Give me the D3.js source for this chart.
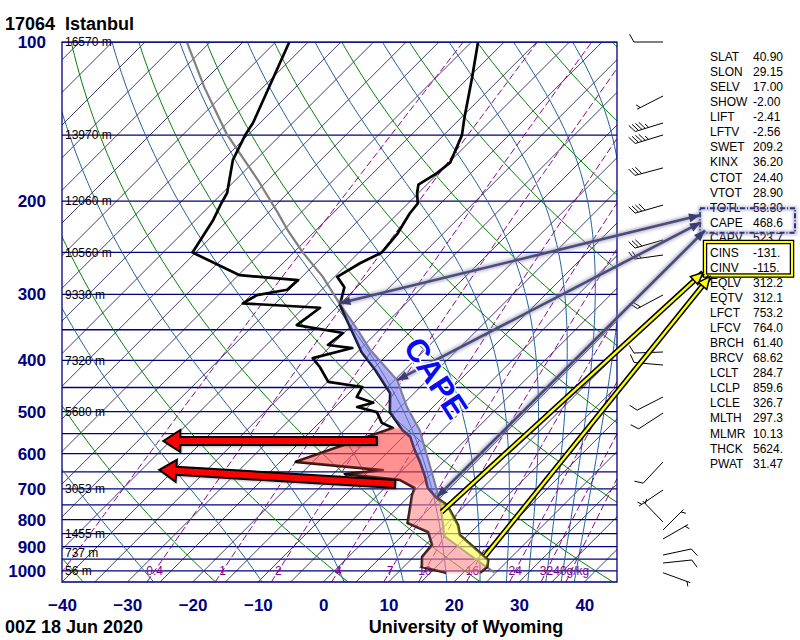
<!DOCTYPE html>
<html><head><meta charset="utf-8">
<script src="https://cdn.jsdelivr.net/npm/d3@7/dist/d3.min.js"></script>
<style>
body{margin:0;background:#fff}
svg{display:block}
text{font-family:Arial,"Liberation Sans",Helvetica,sans-serif}
</style></head><body>
<svg id="chart" width="800" height="640"></svg>
<script>
// ---------------- data ----------------
const stationTitle = "17064  Istanbul";
const timeLabel = "00Z 18 Jun 2020";
const creditLabel = "University of Wyoming";

const pressureTicks = [100,200,300,400,500,600,700,800,900,1000];
const tempTicks = [-40,-30,-20,-10,0,10,20,30,40];
const isobarLevels = [100,150,200,250,300,350,400,450,500,550,600,650,700,750,800,850,900,950,1000,1050];
const heightLevels = [100,150,200,250,300,400,500,700,850,925,1000];
const heightLabels = ["16570 m","13970 m","12060 m","10560 m","9330 m","7320 m","5680 m","3053 m","1455 m","737 m","56 m"];

const mixingRatios = [0.1,0.4,1,2,4,7,10,16,24,32,40];
const mixingLabels = ["","0.4","1","2","4","7","10","16","24","32","40g/kg"];
const dryAdiabatsC = [-40,-20,0,20,40,60,80,100,120,140,160,180,200];
const moistThetaE = [245,265,285,305,325,345,365,385,405,425,445];
const isothermStep = 5;

// sounding (hPa, degC)
const tempP = [1008,983,954,855,819,751,725,697,664,622,591,558,542,501,461,417,386,355,314,291,278,262,250,230,211,202,193,186,177,169,150,139,117,100];
const tempT = [22.6,22.8,21.9,13.7,11.9,7.2,4.2,1.6,-0.5,-3.6,-6.2,-8.9,-11.1,-15.8,-18.7,-24.5,-29.3,-33.6,-39.9,-41.9,-44.6,-43.2,-41.5,-42.0,-43.2,-43.5,-45.2,-46.3,-45.2,-44.8,-47.2,-49.5,-54.4,-59.0];

const dewP = [1008,983,941,893,844,812,719,697,673,656,645,622,537,525,501,490,481,469,449,439,412,396,379,374,355,343,318,312,301,294,282,276,250,217,202,193,167,150,142,100];
const dewT = [17.4,12.8,11.3,11.0,8.4,3.9,0.3,-0.4,-3.9,-13.2,-8.0,-22.6,-12.9,-15.4,-17.8,-21.6,-19.8,-23.2,-23.9,-29.9,-33.4,-35.9,-31.4,-35.6,-35.1,-43.4,-42.5,-55.0,-54.1,-50.3,-50.1,-59.8,-70.5,-72.3,-73.6,-74.3,-78.5,-80.4,-81.1,-87.9];

const parcelP = [1008,950,900,859.6,812,744,682,612,542,490,436,382,350,312,278,250,227,210,182,149,122,100];
const parcelT = [24.8,19.8,15.3,11.5,9.3,5.8,1.9,-3.0,-8.5,-14.0,-19.6,-28.4,-33.4,-40.2,-46.8,-53.6,-59.3,-63.6,-71.7,-83.5,-93.9,-103.6];

// winds (hPa, direction deg, speed kt)
const windP = [100,126.5,142.3,149.9,173,203.4,236.8,252.8,300.8,385.6,408.1,469,503,622.4,703.1,808.3,836.9,870.3,933.2,966.3,1008];
const windDir = [270,243,253,253,255,254,254,262,242,268,275,243,237,223,236,316,45,60,78,84,110];
const windSpd = [10,5,45,45,30,40,30,25,20,10,10,10,10,10,5,5,3,3,10,10,3];

// station indices
const indexNames = ["SLAT","SLON","SELV","SHOW","LIFT","LFTV","SWET","KINX","CTOT","VTOT","TOTL","CAPE","CAPV","CINS","CINV","EQLV","EQTV","LFCT","LFCV","BRCH","BRCV","LCLT","LCLP","LCLE","MLTH","MLMR","THCK","PWAT"];
const indexValues = ["40.90","29.15","17.00","-2.00","-2.41","-2.56","209.2","36.20","24.40","28.90","53.30","468.6","523.7","-131.","-115.","312.2","312.1","753.2","764.0","61.40","68.62","284.7","859.6","326.7","297.3","10.13","5624.","31.47"];

// annotations (hPa, degC)
const capeArrowTails = [[312,-40.2],[436,-19.6],[725,4.4]];
const cinArrowTails = [[774,7.4],[937,20.8]];
const redArrowTails = [[568,-13.4],[685,-4.0]];
const redArrowHeads = [[568,-46.1],[644,-42.3]];
const dryLayer = [537,690];
const moistLayerTop = 690;

// ---------------- scales ----------------
const svg = d3.select('#chart');
const defs = svg.append('defs');
defs.append('clipPath').attr('id','plotClip').append('rect')
  .attr('x',62).attr('y',42).attr('width',555).attr('height',540.1);
const f1 = defs.append('filter').attr('id','soft').attr('x','-20%').attr('y','-20%').attr('width','140%').attr('height','140%');
f1.append('feGaussianBlur').attr('stdDeviation',1.4);
const f2 = defs.append('filter').attr('id','shadow').attr('x','-20%').attr('y','-20%').attr('width','140%').attr('height','140%');
f2.append('feGaussianBlur').attr('stdDeviation',1.8);

const y = d3.scaleLog().domain([100,1050]).range([42,582.1]);
const xb = d3.scaleLinear().domain([-40,45]).range([62,617]);
const yB = y(1050);
const sx = (T,p) => xb(T) + (yB - y(p));

const pSamples = d3.range(0,161).map(i => 1050*Math.pow(100/1050, i/160));
const lineTP = d3.line().x(d => sx(d.T,d.p)).y(d => y(d.p));

function esat(Tc){ return 6.112*Math.exp(17.67*Tc/(Tc+243.5)); }
function thetaE(TK,p){
  const Tc = TK-273.15, es = esat(Tc);
  if (es >= p*0.5) return 1e9;
  const r = 622*es/(p-es);
  return TK*Math.pow(1000/p,0.2854*(1-0.00028*r))*Math.exp((3.376/TK-0.00254)*r*(1+0.00081*r));
}
function moistT(te,p){
  let lo=120, hi=345;
  for(let k=0;k<50;k++){ const m=(lo+hi)/2; if(thetaE(m,p)>te) hi=m; else lo=m; }
  return (lo+hi)/2-273.15;
}
function mixT(w,p){ const e=w*p/(622+w); const a=Math.log(e/6.112); return 243.5*a/(17.67-a); }
function interp(P,T,p){
  for(let i=1;i<P.length;i++){
    if((P[i-1]-p)*(P[i]-p)<=0){
      const f=(Math.log(p)-Math.log(P[i-1]))/(Math.log(P[i])-Math.log(P[i-1]));
      return T[i-1]+f*(T[i]-T[i-1]);
    }
  }
  return NaN;
}
function clipProfile(P,T,pLo,pHi){
  const out=[];
  for(let i=0;i<P.length;i++){
    if(i>0){
      const p0=P[i-1],p1=P[i],t0=T[i-1],t1=T[i];
      [pHi,pLo].forEach(b=>{
        if((p0-b)*(p1-b)<0){
          const f=(Math.log(b)-Math.log(p0))/(Math.log(p1)-Math.log(p0));
          out.push({p:b,T:t0+f*(t1-t0),k:i-1+f});
        }
      });
    }
    if(P[i]>=pLo&&P[i]<=pHi) out.push({p:P[i],T:T[i],k:i});
  }
  return out.sort((a,b)=>a.k-b.k);
}
const logSteps = (pa,pb,n) => d3.range(0,n+1).map(i => pa*Math.pow(pb/pa,i/n));

const tempPts = tempP.map((p,i)=>({p,T:tempT[i]}));
const dewPts = dewP.map((p,i)=>({p,T:dewT[i]}));
const parcelPts = parcelP.map((p,i)=>({p,T:parcelT[i]}));

// ---------------- background grid ----------------
const plot = svg.append('g').attr('clip-path','url(#plotClip)');

plot.append('g').selectAll('line').data(isobarLevels).join('line')
  .attr('x1',62).attr('x2',617).attr('y1',d=>y(d)).attr('y2',d=>y(d))
  .attr('stroke','#000080').attr('stroke-width',1.3);

plot.append('g').selectAll('line').data(d3.range(-160,50,isothermStep)).join('line')
  .attr('x1',d=>sx(d,1050)).attr('y1',yB).attr('x2',d=>sx(d,100)).attr('y2',y(100))
  .attr('stroke','#10104a').attr('stroke-width',0.8);

plot.append('g').selectAll('path').data(dryAdiabatsC).join('path')
  .attr('d',th => lineTP(pSamples.map(p=>({p,T:(th+273.15)*Math.pow(p/1000,0.2857)-273.15}))))
  .attr('fill','none').attr('stroke','#008000').attr('stroke-width',1);

plot.append('g').selectAll('path').data(moistThetaE).join('path')
  .attr('d',te => lineTP(pSamples.map(p=>({p,T:moistT(te,p)}))))
  .attr('fill','none').attr('stroke','#1f5f9f').attr('stroke-width',1);

plot.append('g').selectAll('path').data(mixingRatios).join('path')
  .attr('d',w => lineTP(pSamples.map(p=>({p,T:mixT(w,p)}))))
  .attr('fill','none').attr('stroke','#8a008a').attr('stroke-width',1).attr('stroke-dasharray','7,3');

// mixing ratio labels
plot.append('g').selectAll('text').data(mixingRatios).join('text')
  .attr('x',w=>sx(mixT(w,1000),1000)).attr('y',y(1000)).attr('dy','0.35em')
  .attr('text-anchor','middle').attr('font-size',12).attr('fill','#8a008a')
  .text((w,i)=>mixingLabels[i]);

// ---------------- profiles ----------------
plot.append('path').attr('d',lineTP(parcelPts)).attr('fill','none').attr('stroke','#808080').attr('stroke-width',2.2);
plot.append('path').attr('d',lineTP(dewPts)).attr('fill','none').attr('stroke','#000').attr('stroke-width',2.7).attr('stroke-linejoin','round');
plot.append('path').attr('d',lineTP(tempPts)).attr('fill','none').attr('stroke','#000').attr('stroke-width',2.7).attr('stroke-linejoin','round');

// height labels (not clipped)
svg.append('g').selectAll('text').data(heightLevels).join('text')
  .attr('x',65).attr('y',d=>y(d)).attr('dy','0.35em').attr('font-size',12).attr('fill','#000')
  .text((d,i)=>heightLabels[i]);

// ---------------- shaded areas ----------------
const pLFC = +indexValues[indexNames.indexOf('LFCT')];
const pEL = +indexValues[indexNames.indexOf('EQLV')];
const Tf = p => interp(tempP,tempT,p), Pf = p => interp(parcelP,parcelT,p);
const poly = pts => pts.map(d=>[sx(d.T,d.p),y(d.p)]);
const area = svg.append('g');

// dry layer (upper pink)
{
  const left = clipProfile(dewP,dewT,dryLayer[0],dryLayer[1]);
  const right = logSteps(dryLayer[0],dryLayer[1],60).map(p=>({p,T:Tf(p)}));
  area.append('polygon').attr('points',poly(left.concat(right)).join(' '))
    .attr('fill','#ff5050').attr('opacity',0.62).attr('filter','url(#soft)');
}
// lower pink
{
  const left = clipProfile(dewP,dewT,moistLayerTop,tempP[0]);
  const right = logSteps(moistLayerTop,tempP[0],120).map(p=>({p,T: p>pLFC-10 ? Math.min(Tf(p),Pf(p)) : Tf(p)}));
  area.append('polygon').attr('points',poly(left.concat(right)).join(' '))
    .attr('fill','#ff8a8a').attr('opacity',0.6).attr('filter','url(#soft)');
}
// CAPE (blue)
{
  const ps = logSteps(pLFC+10,pEL,200);
  const left = ps.map(p=>({p,T:Tf(p)}));
  const right = ps.slice().reverse().map(p=>({p,T:Math.max(Tf(p),Pf(p))}));
  area.append('polygon').attr('points',poly(left.concat(right)).join(' '))
    .attr('fill','#7777ee').attr('opacity',0.6).attr('filter','url(#soft)');
}
// CIN (yellow)
{
  const ps = logSteps(tempP[0],pLFC-25,200);
  const left = ps.map(p=>({p,T:Pf(p)}));
  const right = ps.slice().reverse().map(p=>({p,T:Math.max(Tf(p),Pf(p))}));
  area.append('polygon').attr('points',poly(left.concat(right)).join(' '))
    .attr('fill','#ffff55').attr('opacity',0.65).attr('filter','url(#soft)');
}

// frame
svg.append('rect').attr('x',62).attr('y',42).attr('width',555).attr('height',540.1)
  .attr('fill','none').attr('stroke','#000080').attr('stroke-width',1.3);

// ---------------- axes ----------------
const yAxis = d3.axisLeft(y).tickValues(pressureTicks).tickSize(0).tickPadding(0).tickFormat(d3.format('d'));
const gy = svg.append('g').attr('transform','translate(46,0)').call(yAxis);
gy.select('.domain').remove();
gy.selectAll('text').attr('font-size',17).attr('font-weight','bold').attr('fill','#000080').attr('font-family','Arial, Liberation Sans, sans-serif');

const xAxis = d3.axisBottom(xb).tickValues(tempTicks).tickSize(0).tickPadding(0);
const gx = svg.append('g').attr('transform','translate(0,599)').call(xAxis);
gx.select('.domain').remove();
gx.selectAll('text').attr('font-size',17).attr('font-weight','bold').attr('fill','#000080').attr('font-family','Arial, Liberation Sans, sans-serif');

// titles
svg.append('text').attr('x',5).attr('y',30).attr('font-size',18).attr('font-weight','bold').style('white-space','pre').text(stationTitle);
svg.append('text').attr('x',5).attr('y',633).attr('font-size',18).attr('font-weight','bold').text(timeLabel);
svg.append('text').attr('x',466).attr('y',633).attr('text-anchor','middle').attr('font-size',18).attr('font-weight','bold').text(creditLabel);

// ---------------- wind barbs ----------------
const barbX = 663, staffLen = 29;
const gb = svg.append('g').attr('stroke','#000').attr('stroke-width',1).attr('fill','none');
windP.forEach((p,i)=>{
  const dir = windDir[i]*Math.PI/180, spd = windSpd[i];
  const ux = Math.sin(dir), uy = -Math.cos(dir);
  const bx = barbX, by = y(p);
  const tx = bx+ux*staffLen, ty = by+uy*staffLen;
  gb.append('line').attr('x1',bx).attr('y1',by).attr('x2',tx).attr('y2',ty);
  const a = 60*Math.PI/180;
  const fx = ux*Math.cos(a)-uy*Math.sin(a), fy = ux*Math.sin(a)+uy*Math.cos(a);
  let s = Math.round(spd/5)*5, pos = 0;
  while(s>=50){
    const px=tx-ux*pos, py=ty-uy*pos;
    gb.append('polygon').attr('points',[[px,py],[px+fx*9,py+fy*9],[px-ux*5,py-uy*5]].join(' ')).attr('fill','#000');
    s-=50; pos+=6;
  }
  while(s>=10){
    const px=tx-ux*pos, py=ty-uy*pos;
    gb.append('line').attr('x1',px).attr('y1',py).attr('x2',px+fx*9).attr('y2',py+fy*9);
    s-=10; pos+=3.5;
  }
  if(s>=5){
    if(pos===0) pos=3.5;
    const px=tx-ux*pos, py=ty-uy*pos;
    gb.append('line').attr('x1',px).attr('y1',py).attr('x2',px+fx*5).attr('y2',py+fy*5);
  }
});

// ---------------- index table ----------------
const rowY = i => 56.7 + 15.06*i;
const gt = svg.append('g').attr('font-size',12).attr('fill','#000');
gt.selectAll('text.n').data(indexNames).join('text').attr('class','n')
  .attr('x',710).attr('y',(d,i)=>rowY(i)).attr('dy','0.36em').text(d=>d);
gt.selectAll('text.v').data(indexValues).join('text').attr('class','v')
  .attr('x',753).attr('y',(d,i)=>rowY(i)).attr('dy','0.36em').text(d=>d);

const capeRow = indexNames.indexOf('CAPE'), cinRow = indexNames.indexOf('CINS');
const capeBox = {x0:700, y0:rowY(capeRow)-14, x1:795, y1:rowY(capeRow)+10.5};
const cinBox = {x0:705, y0:rowY(cinRow)-10.5, x1:792, y1:rowY(cinRow+1)+8};

// ---------------- annotations ----------------
const ann = svg.append('g');
function headPts(x1,y1,x2,y2,len,w){
  const L=Math.hypot(x2-x1,y2-y1), ux=(x2-x1)/L, uy=(y2-y1)/L, nx=-uy, ny=ux;
  const bx=x2-ux*len, by=y2-uy*len;
  return [[x2,y2],[bx+nx*w/2,by+ny*w/2],[bx-nx*w/2,by-ny*w/2]];
}
// boxes
ann.append('rect').attr('x',capeBox.x0).attr('y',capeBox.y0).attr('width',capeBox.x1-capeBox.x0).attr('height',capeBox.y1-capeBox.y0)
  .attr('fill','none').attr('stroke','#9090c0').attr('stroke-width',4).attr('opacity',0.6).attr('filter','url(#shadow)');
ann.append('rect').attr('x',capeBox.x0).attr('y',capeBox.y0).attr('width',capeBox.x1-capeBox.x0).attr('height',capeBox.y1-capeBox.y0)
  .attr('fill','none').attr('stroke','#303078').attr('stroke-width',2).attr('stroke-dasharray','5,2,1,2');
ann.append('rect').attr('x',cinBox.x0).attr('y',cinBox.y0).attr('width',cinBox.x1-cinBox.x0).attr('height',cinBox.y1-cinBox.y0)
  .attr('fill','none').attr('stroke','#000').attr('stroke-width',4.5);
ann.append('rect').attr('x',cinBox.x0).attr('y',cinBox.y0).attr('width',cinBox.x1-cinBox.x0).attr('height',cinBox.y1-cinBox.y0)
  .attr('fill','none').attr('stroke','#ffff00').attr('stroke-width',2);

// gray CAPE arrows (double headed)
const capeTargets = [[capeBox.x0, capeBox.y0+7],[capeBox.x0+1, capeBox.y0+14],[capeBox.x0+5, capeBox.y0+22]];
capeArrowTails.forEach((d,i)=>{
  const x1=sx(d[1],d[0]), y1=y(d[0]), x2=capeTargets[i][0], y2=capeTargets[i][1];
  ann.append('line').attr('x1',x1).attr('y1',y1).attr('x2',x2).attr('y2',y2)
    .attr('stroke','#8a8ab0').attr('stroke-width',6).attr('opacity',0.55).attr('filter','url(#shadow)');
  ann.append('line').attr('x1',x1).attr('y1',y1).attr('x2',x2).attr('y2',y2)
    .attr('stroke','#4c4c78').attr('stroke-width',2.6);
  ann.append('polygon').attr('points',headPts(x1,y1,x2,y2,11,9).join(' ')).attr('fill','#3c3c70');
  ann.append('polygon').attr('points',headPts(x2,y2,x1,y1,11,9).join(' ')).attr('fill','#3c3c70');
});

// yellow CIN arrows
const cinTargets = [[cinBox.x0-2, cinBox.y1-3],[cinBox.x0+5, cinBox.y1+1]];
cinArrowTails.forEach((d,i)=>{
  const x1=sx(d[1],d[0]), y1=y(d[0]), x2=cinTargets[i][0], y2=cinTargets[i][1];
  ann.append('line').attr('x1',x1).attr('y1',y1).attr('x2',x2).attr('y2',y2).attr('stroke','#000').attr('stroke-width',5.5);
  ann.append('line').attr('x1',x1).attr('y1',y1).attr('x2',x2).attr('y2',y2).attr('stroke','#ffff00').attr('stroke-width',2.4);
  ann.append('polygon').attr('points',headPts(x1,y1,x2,y2,12,11).join(' ')).attr('fill','#ffff00').attr('stroke','#000').attr('stroke-width',1.5);
});

// red arrows
redArrowTails.forEach((d,i)=>{
  const x1=sx(d[1],d[0]), y1=y(d[0]);
  const h=redArrowHeads[i], x2=sx(h[1],h[0]), y2=y(h[0]);
  const L=Math.hypot(x2-x1,y2-y1), ux=(x2-x1)/L, uy=(y2-y1)/L, nx=-uy, ny=ux;
  const sw=8, hw=22, hl=17;
  const bx=x2-ux*hl, by=y2-uy*hl;
  const pts=[[x1+nx*sw/2,y1+ny*sw/2],[bx+nx*sw/2,by+ny*sw/2],[bx+nx*hw/2,by+ny*hw/2],[x2,y2],
             [bx-nx*hw/2,by-ny*hw/2],[bx-nx*sw/2,by-ny*sw/2],[x1-nx*sw/2,y1-ny*sw/2]];
  ann.append('polygon').attr('points',pts.map(q=>[q[0]+1.5,q[1]+1.5]).join(' ')).attr('fill','#000').attr('opacity',0.35).attr('filter','url(#shadow)');
  ann.append('polygon').attr('points',pts.join(' ')).attr('fill','#ff0000').attr('stroke','#000').attr('stroke-width',2).attr('stroke-linejoin','miter');
});

// CAPE text
ann.append('text').attr('transform','translate(436,378) rotate(57)')
  .attr('text-anchor','middle').attr('dy','0.35em').attr('font-size',32).attr('font-weight','bold')
  .attr('fill','#0a0af5').attr('stroke','#fff').attr('stroke-width',3).attr('paint-order','stroke')
  .text('CAPE');
</script>
</body></html>
